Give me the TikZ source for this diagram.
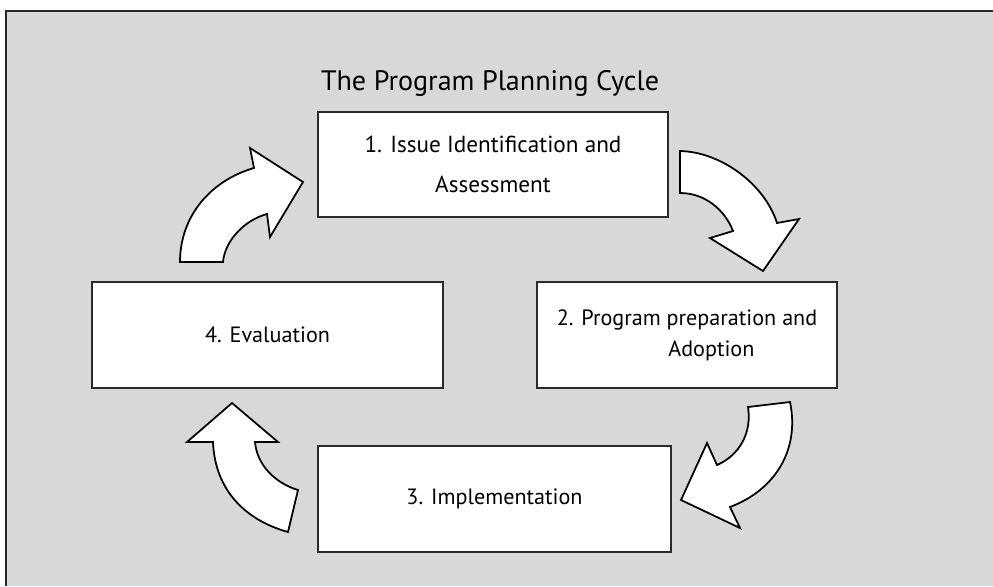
\documentclass[tikz,border=0pt]{standalone}
\usepackage{fontspec}
\setmainfont{PT Sans}
\definecolor{bggray}{HTML}{D8D8D8}
\definecolor{edgegray}{HTML}{2A2A2A}
\begin{document}
\begin{tikzpicture}[x=0.02cm,y=-0.02cm,
  stagebox/.style={draw=edgegray, line width=0.9pt, fill=white, align=center, inner sep=0pt},
  bigtext/.style={font=\fontsize{13.2}{22.7}\selectfont},
  smalltext/.style={font=\fontsize{12.6}{17.6}\selectfont},
  blockarrow/.style={draw=black, line width=1pt, fill=white, line join=miter}]
\useasboundingbox (0,0) rectangle (993,586);
\fill[white] (0,0) rectangle (993,586);
\fill[bggray] (6,11) rectangle (993,586);
\draw[black!85, line width=1.4pt] (993,11) -- (6,11) -- (6,586);

\node[font=\fontsize{16}{19}\selectfont] (title) at (490,83) {The Program Planning Cycle};

\node[stagebox, bigtext, minimum width=7cm, minimum height=2.1cm] (s1) at (493,164.5)
  {1. Issue Identification and\\Assessment};
\node[stagebox, smalltext, minimum width=6cm, minimum height=2.12cm] (s2) at (687,335)
  {2. Program preparation and\\\hspace*{2.2em}Adoption};
\node[stagebox, smalltext, minimum width=7.06cm, minimum height=2.12cm] (s3) at (494.5,499)
  {3. Implementation};
\node[stagebox, smalltext, minimum width=7.02cm, minimum height=2.12cm] (s4) at (267.5,335)
  {4. Evaluation};

% 4 -> 1
\draw[blockarrow] (180,262) .. controls (180,215) and (212,180) .. (254,168) -- (250,148) -- (303,182) -- (270,237) -- (267,214) .. controls (245,220) and (225,240) .. (223,262) -- cycle;
% 1 -> 2
\draw[blockarrow] (680,151) .. controls (722,152) and (765,185) .. (777,223) -- (799,219) -- (763,271) -- (710,238) -- (733,231) .. controls (725,210) and (705,193) .. (680,193) -- cycle;
% 2 -> 3
\draw[blockarrow] (748,407) -- (790,402) .. controls (800,450) and (775,490) .. (730,507) -- (740,528) -- (681,500) -- (707,443) -- (717,465) .. controls (740,455) and (752,432) .. (748,407) -- cycle;
% 3 -> 4
\draw[blockarrow] (288,532) .. controls (245,520) and (215,490) .. (213,442) -- (187,442) -- (232,403) -- (278,442) -- (255,442) .. controls (257,465) and (275,483) .. (298,490) -- cycle;
\end{tikzpicture}
\end{document}
